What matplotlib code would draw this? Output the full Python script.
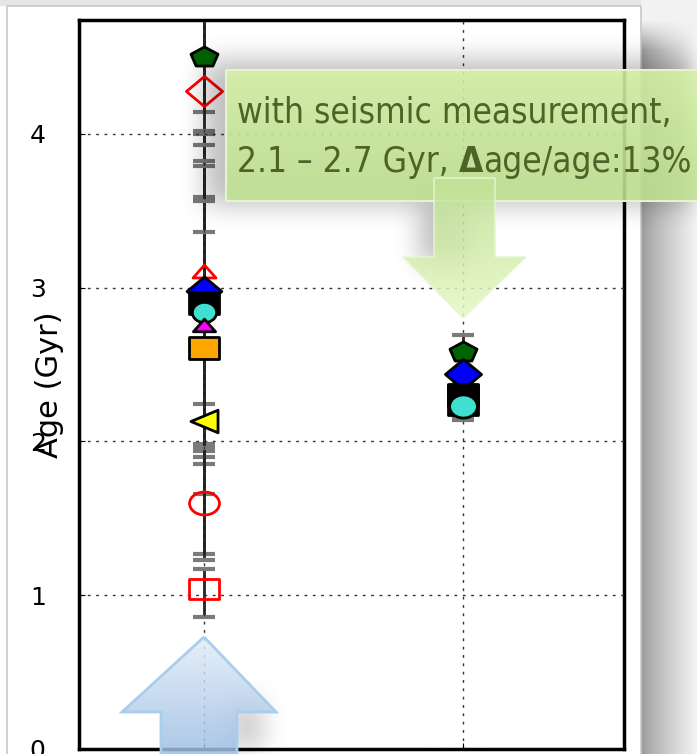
import numpy as np
import matplotlib
matplotlib.use("Agg")
import matplotlib.pyplot as plt
from matplotlib.patches import Polygon
from matplotlib.path import Path
from matplotlib import font_manager

W, H = 697, 754
DPI = 100

# ---------------- data ----------------
columns = [0, 1]                       # left: all stars, right: with seismic measurement
y_ticks = [0, 1, 2, 3, 4]
y_max = 4.74

# left column (model ages of individual determinations)
left_age   = [4.50, 4.28, 3.11, 2.98, 2.90, 2.84, 2.76, 2.61, 2.13, 1.60, 1.04]
left_lo    = [0.36, 0.69, 0.87, 1.00, 1.05, 0.90, 0.86, 0.95, 0.86, 0.37, 0.18]
left_hi    = [0.60, 0.60, 0.91, 1.02, 1.03, 0.98, 1.03, 0.95, 1.23, 0.36, 0.13]

# right column (with seismic measurement)
right_age  = [2.58, 2.44, 2.33, 2.30, 2.27, 2.23]
right_lo   = [0.11, 0.13, 0.10, 0.12, 0.12, 0.09]
right_hi   = [0.11, 0.13, 0.12, 0.12, 0.12, 0.10]

ylabel = "Age (Gyr)"
note_line1 = "with seismic measurement,"
note_line2a = "2.1 \u2013 2.7 Gyr, "
note_line2b = "\u0394"
note_line2c = "age/age:13%"

# ---------------- marker styles ----------------
def m_poly(pts):
    pts = list(pts) + [pts[0]]
    codes = [Path.MOVETO] + [Path.LINETO] * (len(pts) - 2) + [Path.CLOSEPOLY]
    return Path(pts, codes)

def m_ellipse(ax_ratio):
    c = Path.unit_circle()
    return Path(c.vertices * np.array([ax_ratio, 1.0]), c.codes)

ang = np.pi / 2 + np.arange(5) * 2 * np.pi / 5
PENT = m_poly([(1.35 * np.cos(a), np.sin(a)) for a in ang])
DIAM = m_poly([(-1.2, 0), (0, 1), (1.2, 0), (0, -1)])
TRI_UP = m_poly([(-1.33, -0.75), (1.33, -0.75), (0, 0.75)])
TRI_LEFT = m_poly([(-1.2, 0), (1.2, 1.0), (1.2, -1.0)])
SQ_WIDE = m_poly([(-1.36, -1), (1.36, -1), (1.36, 1), (-1.36, 1)])
SQ_RED = m_poly([(-1.45, -1), (1.45, -1), (1.45, 1), (-1.45, 1)])
SQ = m_poly([(-1.05, -1), (1.05, -1), (1.05, 1), (-1.05, 1)])
ELL_C = m_ellipse(1.2)
ELL_R = m_ellipse(1.3)

# (marker, size, face, edge) for each left point
left_style = [
    (PENT, 19.5, '#006400', 'k'),
    (DIAM, 26, 'none', '#ff0000'),
    (TRI_UP, 16.5, 'none', '#ff0000'),
    (DIAM, 25, '#0000ff', 'k'),
    (SQ_WIDE, 21, '#000000', 'k'),
    (ELL_C, 17.5, '#40e0d0', 'k'),
    (TRI_UP, 16, '#ff00ff', 'k'),
    (SQ_WIDE, 21.5, '#ffa500', 'k'),
    (TRI_LEFT, 19.5, '#ffff00', 'k'),
    (ELL_R, 21.5, 'none', '#ff0000'),
    (SQ_RED, 21.5, 'none', '#ff0000'),
]
right_style = [
    (PENT, 19.5, '#006400', 'k'),
    (DIAM, 26, '#0000ff', 'k'),
    (TRI_UP, 14, '#ff00ff', 'k'),
    (SQ_WIDE, 21, '#ffa500', 'k'),
    (SQ, 22, '#000000', 'k'),
    (ELL_C, 20, '#40e0d0', 'k'),
]

# ---------------- figure ----------------
fig = plt.figure(figsize=(W / DPI, H / DPI), dpi=DPI, facecolor='white')

def px(x, y):
    return x / W, 1 - y / H

# background (slide with frame and drop shadow)
bg = fig.add_axes([0, 0, 1, 1], zorder=-5)
bg.set_axis_off()
img = np.ones((H, W, 3))
xs = np.arange(W)
grad = np.clip((xs - 641) / 56.0, 0, 1)
shade = 0.60 + 0.36 * grad ** 0.8
vfade = np.clip((np.arange(H) - 20) / 30.0, 0, 1)
for x in range(641, W):
    img[:, x, :] = (0.95 * (1 - vfade) + shade[x] * vfade)[:, None]
img[:6, :641, :] = 0.90
bg.imshow(img, extent=(0, W, H, 0), origin='upper', aspect='auto')
bg.plot([7, 7, 641, 641], [H, 6, 6, H], color='#c8c8c8', lw=1.2)
bg.set_xlim(0, W)
bg.set_ylim(H, 0)

# main axes
l, b = px(79, 749)
r, t = px(624, 20)
ax = fig.add_axes([l, b, r - l, t - b])
ax.set_facecolor('white')

def draw_err(xc, ages, lo, hi):
    for i in range(len(ages)):
        eb = ax.errorbar(xc, ages[i], yerr=[[lo[i]], [hi[i]]],
                         fmt='none', ecolor='#222222', elinewidth=2.0, capsize=8,
                         capthick=3, zorder=2)
        for c in eb[1]:
            c.set_color('#7a7a7a')
            c.set_markeredgecolor('#7a7a7a')

draw_err(columns[0], left_age, left_lo, left_hi)
draw_err(columns[1], right_age, right_lo, right_hi)

for i in range(len(left_age)):
    mk, ms, fc, ec = left_style[i]
    ax.plot(columns[0], left_age[i], marker=mk, ms=ms, mfc=fc, mec=ec,
            mew=2.0, ls='none', zorder=3)
for i in range(len(right_age)):
    mk, ms, fc, ec = right_style[i]
    ax.plot(columns[1], right_age[i], marker=mk, ms=ms, mfc=fc, mec=ec,
            mew=2.0, ls='none', zorder=3)

ax.set_xlim(-0.483, 1.622)
ax.set_ylim(0, y_max)
ax.set_xticks(columns)
ax.set_xticklabels([])
ax.set_yticks(y_ticks)
ax.set_yticklabels([str(v) for v in y_ticks], fontsize=18)
ax.tick_params(axis='both', direction='in', length=4, pad=24)
ax.grid(True, color='#333333', linestyle=(0, (2, 4)), linewidth=1.0, zorder=5)
ax.set_axisbelow(False)
for s in ax.spines.values():
    s.set_linewidth(2.5)
ax.set_ylabel(ylabel, fontsize=22)
ax.yaxis.set_label_coords((64 - 79) / 545.0, 0.5)

# ---------------- overlay (callout + arrows) ----------------
ov = fig.add_axes([0, 0, 1, 1], zorder=10)
ov.set_axis_off()
ov.patch.set_alpha(0)

def blur(a, r):
    k = np.ones(2 * r + 1) / (2 * r + 1)
    for axis in (0, 1):
        for _ in range(3):
            a = np.apply_along_axis(lambda m: np.convolve(m, k, mode='same'), axis, a)
    return a

mask = np.zeros((H, W))
mask[60:205, 205:W] = 1.0
mask[200:265, 420:470] = 1.0
mask[700:H, 230:262] = 0.8
mask = blur(mask, 12)
sh = np.zeros((H, W, 4))
sh[..., 3] = 0.26 * mask
ov.imshow(sh, extent=(0, W, H, 0), origin='upper', aspect='auto', zorder=1)

def grad_fill(poly_pts, top_col, bot_col, y0, y1, alpha, zorder, edge=None, lw=1.5):
    poly = Polygon(poly_pts, closed=True, facecolor='none',
                   edgecolor=edge if edge else 'none', lw=lw, zorder=zorder + 0.5)
    ov.add_patch(poly)
    n = 256
    tcol = np.array(matplotlib.colors.to_rgb(top_col))
    bcol = np.array(matplotlib.colors.to_rgb(bot_col))
    f = np.linspace(0, 1, n)[:, None]
    g = np.zeros((n, 2, 4))
    g[:, :, :3] = (tcol * (1 - f) + bcol * f)[:, None, :]
    g[:, :, 3] = alpha
    xs_ = [p[0] for p in poly_pts]
    im = ov.imshow(g, extent=(min(xs_), max(xs_), y1, y0), origin='upper',
                   aspect='auto', zorder=zorder)
    clip = Polygon(poly_pts, closed=True, transform=ov.transData)
    im.set_clip_path(clip)

# green callout box
grad_fill([(226, 70), (720, 70), (720, 201), (226, 201)],
          '#d8f3a8', '#bfe290', 70, 201, 0.88, 2, edge='#e4f4cc', lw=1.5)
# green down arrow
grad_fill([(434, 178), (495, 178), (495, 257), (526, 257), (463, 318),
           (403, 257), (434, 257)],
          '#c2e296', '#e4f8c2', 178, 318, 0.85, 3, edge='#e6f7cf', lw=1.0)
# blue up arrow
grad_fill([(204, 637), (276, 712), (237, 712), (237, 770), (161, 770),
           (161, 712), (122, 712)],
          '#e3edf8', '#93b7e0', 637, 770, 0.85, 3, edge='#a9cdef', lw=2.0)

ov.set_xlim(0, W)
ov.set_ylim(H, 0)

# callout text
names = {f.name for f in font_manager.fontManager.ttflist}
if 'Liberation Sans Narrow' in names:
    fam = ['Liberation Sans Narrow', 'DejaVu Sans']
    stretch = 'normal'
else:
    fam = ['DejaVu Sans']
    stretch = 'condensed'
tc = '#4f6228'
fs0 = 29
t1 = ov.text(237, 123, note_line1, fontsize=fs0, family=fam, stretch=stretch,
             color=tc, va='baseline', ha='left', zorder=6)
ta = ov.text(237, 172, note_line2a, fontsize=fs0, family=fam, stretch=stretch,
             color=tc, va='baseline', ha='left', zorder=6)
tb = ov.annotate(note_line2b, xy=(1, 0), xycoords=ta, fontsize=fs0, family=fam,
                 stretch=stretch, fontweight='bold', color=tc, va='bottom',
                 ha='left', zorder=6)
tcx = ov.annotate(note_line2c, xy=(1, 0), xycoords=tb, fontsize=fs0, family=fam,
                  stretch=stretch, color=tc, va='bottom', ha='left', zorder=6)
fig.canvas.draw()
rend = fig.canvas.get_renderer()
w1 = t1.get_window_extent(rend).width
w2 = tcx.get_window_extent(rend).x1 - ta.get_window_extent(rend).x0
fs = fs0 * min(452.0 / w1, 454.0 / w2)
for tt in (t1, ta, tb, tcx):
    tt.set_fontsize(fs)

fig.savefig('out.png', dpi=DPI, facecolor='white')
